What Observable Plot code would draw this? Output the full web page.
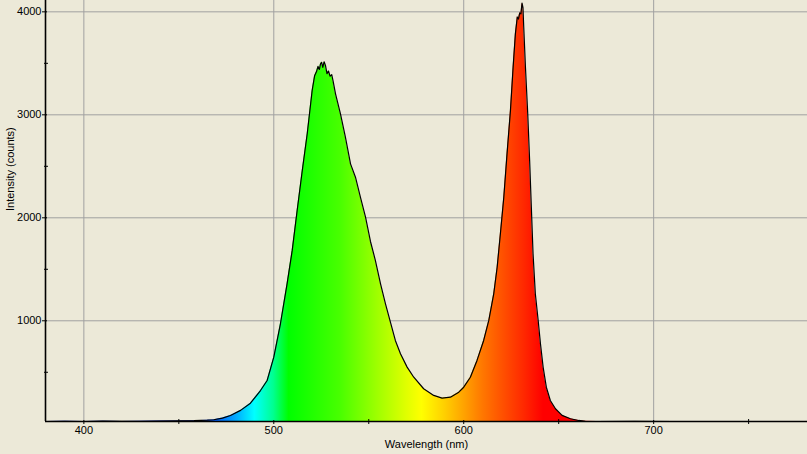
<!DOCTYPE html>
<html>
<head>
<meta charset="utf-8">
<script src="https://cdn.jsdelivr.net/npm/d3@7"></script>
<script src="https://cdn.jsdelivr.net/npm/@observablehq/plot@0.6"></script>
<style>
  html, body { margin: 0; padding: 0; background: #ECE9D8; }
  #chart svg { display: block; }
</style>
</head>
<body>
<div id="chart"></div>
<script>
// Wavelength (nm) and intensity (counts)
const wavelength = [380,390,400,410,420,430,440,450,458,465,468.4,473,477.2,482.5,487.7,493,496.5,500,503.5,507,509.7,512.3,515,517.6,520.2,521.5,522.5,523.3,524,524.6,525.2,525.8,526.5,527.2,528,528.8,529.6,530.5,531.2,532.5,535.1,537.7,540.4,543,545.6,548.3,550.9,553.5,556.2,558.8,561.4,564,566.7,570.2,573.7,578.9,584.2,588.6,593,597.4,600,603.5,607,610.5,613.2,615.8,617.6,619.3,621.1,622.8,624.6,626,627.2,628.2,628.8,629.5,630.1,630.7,631.2,631.6,632.5,633.7,634.7,635.6,636.5,637.7,639.2,640.4,641.8,643.5,645.6,648.3,651.8,656.2,660.5,664,670,690,710,730,750,770,781];
const intensity = [22,24,22,25,23,24,26,28,30,35,39,55,80,130,200,323,420,647,971,1359,1683,2071,2459,2816,3236,3380,3420,3470,3440,3495,3510,3460,3515,3480,3400,3425,3375,3390,3330,3204,3010,2783,2524,2394,2200,2006,1770,1585,1359,1165,987,809,680,550,452,340,275,249,258,307,355,452,615,809,1003,1262,1520,1845,2200,2621,3042,3462,3786,3950,3930,3990,3980,4084,4040,3851,3462,3010,2556,2103,1650,1262,1003,777,550,355,226,146,81,49,32,24,22,23,22,22,22,22,22];

const xMajor = [400, 500, 600, 700];
const xMinor = [450, 550, 650, 750];
const yMajor = [1000, 2000, 3000, 4000];
const yMinor = [500, 1500, 2500, 3500];
const xDomain = [379.8, 781];
const yDomain = [22, 4110];

// spectral colour stops (wavelength, colour)
const stopNm = [460, 470, 480, 490, 500, 508, 520, 535, 555, 570, 578, 590, 600, 610, 622, 632, 642, 700];
const stopColor = ["#2040ff","#0060ff","#00a8ff","#00ffff","#00ff90","#00ff00","#20ff00","#48ff00","#a0ff00","#e0ff00","#ffff00","#ffd000","#ffa400","#ff7800","#ff4c00","#ff2800","#ff0000","#ff0000"];

const data = wavelength.map((w, i) => ({w, v: intensity[i]}));

const plot = Plot.plot({
  width: 807,
  height: 454,
  marginLeft: 45,
  marginRight: 0,
  marginTop: 0,
  marginBottom: 33,
  style: {background: "#ECE9D8", fontFamily: "'Liberation Sans', Arial, sans-serif", fontSize: "11px", color: "#000"},
  x: {domain: xDomain, label: null},
  y: {domain: yDomain, label: null},
  marks: [
    Plot.gridX(xMajor, {stroke: "#a0a0a0", strokeOpacity: 1}),
    Plot.gridY(yMajor, {stroke: "#a0a0a0", strokeOpacity: 1}),
    Plot.areaY(data, {x: "w", y1: yDomain[0], y2: "v", fill: "url(#spec)"}),
    Plot.line(data, {x: "w", y: "v", stroke: "#000", strokeWidth: 1.2}),
    // y axis
    Plot.axisY(yMajor, {tickSize: 5, dx: 2, text: null, label: null, stroke: "#000"}),
    Plot.axisY(yMinor, {tickSize: 4, dx: 3, text: null, label: null, stroke: "#000"}),
    Plot.axisY(yMajor, {tickSize: 0, tickPadding: 4, label: null, tickFormat: d => String(d)}),
    // x axis
    Plot.axisX(xMajor, {tickSize: 4, dy: -1, text: null, label: null, stroke: "#000"}),
    Plot.axisX(xMinor, {tickSize: 5, dy: -2, text: null, label: null, stroke: "#000"}),
    Plot.axisX(xMajor, {tickSize: 0, tickPadding: 5, label: null, tickFormat: d => String(d)}),
    Plot.ruleX([xDomain[0]], {stroke: "#000", strokeWidth: 1.6}),
    Plot.ruleY([yDomain[0]], {stroke: "#000", strokeWidth: 1.6}),
    Plot.text(["Wavelength (nm)"], {frameAnchor: "bottom", dy: 26, fill: "#000"}),
    Plot.text(["Intensity (counts)"], {frameAnchor: "left", rotate: -90, dx: -35, fill: "#000"})
  ]
});

// spectral gradient along the x scale
const xs = plot.scale("x");
const [r0, r1] = xs.range;
const svgNS = "http://www.w3.org/2000/svg";
const defs = document.createElementNS(svgNS, "defs");
const grad = document.createElementNS(svgNS, "linearGradient");
grad.setAttribute("id", "spec");
grad.setAttribute("gradientUnits", "userSpaceOnUse");
grad.setAttribute("x1", r0);
grad.setAttribute("x2", r1);
grad.setAttribute("y1", 0);
grad.setAttribute("y2", 0);
stopNm.forEach((nm, i) => {
  const s = document.createElementNS(svgNS, "stop");
  const px = xs.apply(nm);
  s.setAttribute("offset", Math.max(0, Math.min(1, (px - r0) / (r1 - r0))));
  s.setAttribute("stop-color", stopColor[i]);
  grad.appendChild(s);
});
defs.appendChild(grad);
plot.insertBefore(defs, plot.firstChild);

document.getElementById("chart").appendChild(plot);
</script>
</body>
</html>
